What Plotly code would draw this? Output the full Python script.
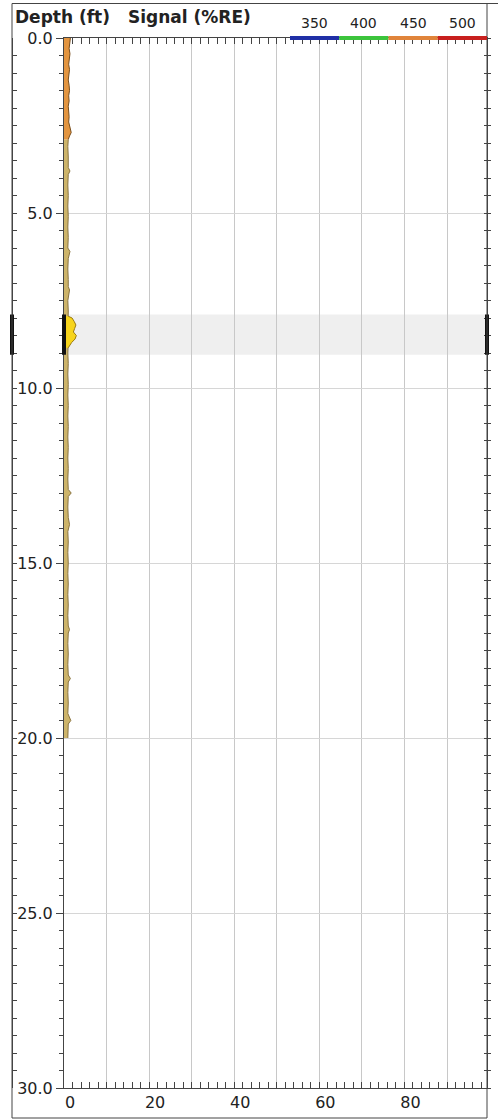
import plotly.graph_objects as go

# ---------------- data ----------------
orange_depth = [0.0, 0.15, 0.3, 0.45, 0.6, 0.75, 0.9, 1.05, 1.2, 1.35, 1.5, 1.65, 1.8, 1.95,
                2.1, 2.25, 2.4, 2.55, 2.7, 2.8, 2.9]
orange_signal = [1.5, 1.3, 1.2, 1.4, 1.3, 1.1, 1.3, 1.2, 1.0, 1.2, 1.3, 1.1, 1.2, 1.0,
                 1.1, 1.2, 1.1, 1.4, 1.7, 1.3, 1.0]

tan_depth = [2.9, 3.1, 3.4, 3.7, 3.8, 3.9, 4.2, 4.5, 4.8, 5.1, 5.4, 5.7, 6.0, 6.1, 6.3, 6.6,
             6.9, 7.1, 7.2, 7.5, 7.8, 8.1, 8.4, 8.7, 9.0, 9.3, 9.6, 9.9, 10.2, 10.5, 10.8,
             11.1, 11.4, 11.7, 12.0, 12.3, 12.6, 12.9, 13.0, 13.1, 13.4, 13.7, 13.9, 14.1,
             14.4, 14.7, 15.0, 15.3, 15.6, 15.9, 16.2, 16.5, 16.8, 16.9, 17.0, 17.3, 17.6,
             17.9, 18.2, 18.3, 18.4, 18.7, 19.0, 19.3, 19.5, 19.6, 19.8, 20.0]
tan_signal = [1.0, 0.9, 1.0, 1.0, 1.4, 1.0, 0.9, 1.0, 0.9, 1.0, 0.9, 1.0, 0.9, 1.4, 1.0, 0.9,
              1.0, 1.0, 1.3, 0.9, 1.0, 0.9, 0.9, 1.0, 0.9, 1.0, 0.9, 1.0, 0.9, 1.0, 0.9,
              1.0, 0.9, 1.0, 0.9, 1.0, 0.9, 1.0, 1.7, 1.0, 0.9, 1.0, 1.3, 0.9,
              1.0, 0.9, 1.0, 0.9, 1.0, 0.9, 1.0, 0.9, 1.0, 1.3, 1.0, 0.9, 1.0,
              0.9, 1.0, 1.5, 1.0, 0.9, 1.0, 0.9, 1.6, 1.0, 0.9, 0.9]

bulge_depth = [7.95, 8.0, 8.1, 8.2, 8.3, 8.4, 8.5, 8.6, 8.7, 8.8, 8.85]
bulge_signal = [1.0, 1.9, 2.4, 2.8, 2.5, 2.2, 2.9, 2.6, 1.8, 1.2, 1.0]

zone_top, zone_bottom = 7.9, 9.05

depth_ticks = [0, 5, 10, 15, 20, 25, 30]
depth_tick_text = ["0.0", "5.0", "10.0", "15.0", "20.0", "25.0", "30.0"]
signal_ticks = [0, 10, 20, 30, 40, 50, 60, 70, 80, 90]
signal_tick_text = ["0", "", "20", "", "40", "", "60", "", "80", ""]

legend_labels = ["350", "400", "450", "500"]
legend_colors = ["#1f2fa6", "#3cc43c", "#e0843a", "#c8201e"]

# ---------------- figure ----------------
W, H = 498, 1120
ML, MR, MT, MB = 12, 11, 38, 32
plot_w = W - ML - MR
plot_h = H - MT - MB
x_dom0 = 52 / plot_w


def px_x(px):
    return (px - ML) / plot_w


def px_y(py):
    return (H - MB - py) / plot_h


FONT = "DejaVu Sans"
AX = "#444444"
TXT = "#222222"

fig = go.Figure()

fig.add_trace(go.Scatter(x=tan_signal, y=tan_depth, mode="lines", fill="tozerox",
                         fillcolor="#cdb46a", line=dict(color="#8a7440", width=1),
                         showlegend=False, hoverinfo="skip"))
fig.add_trace(go.Scatter(x=orange_signal, y=orange_depth, mode="lines", fill="tozerox",
                         fillcolor="#e39540", line=dict(color="#7a4e1c", width=1),
                         showlegend=False, hoverinfo="skip"))
fig.add_trace(go.Scatter(x=bulge_signal, y=bulge_depth, mode="lines", fill="tozerox",
                         fillcolor="#f7d41c", line=dict(color="#9a7a10", width=1),
                         showlegend=False, hoverinfo="skip"))
for ya in ["y2", "y3", "y4"]:
    fig.add_trace(go.Scatter(x=[None], y=[None], yaxis=ya, showlegend=False,
                             hoverinfo="skip"))

yrange = [30, 0]
common_minor_y = dict(dtick=0.5, tick0=0, showgrid=False, tickcolor=AX)

fig.update_layout(
    width=W, height=H,
    margin=dict(l=ML, r=MR, t=MT, b=MB, autoexpand=False),
    paper_bgcolor="white", plot_bgcolor="white",
    font=dict(family=FONT, color=TXT),
    xaxis=dict(domain=[x_dom0, 1], range=[0, 99.4], anchor="y", automargin=False,
               tickvals=signal_ticks, ticktext=signal_tick_text,
               ticks="inside", ticklen=6, tickcolor=AX,
               showline=True, linecolor=AX, mirror="allticks",
               showgrid=True, gridcolor="#c8c8c8", gridwidth=1, zeroline=False,
               minor=dict(dtick=2, ticks="inside", ticklen=3, tickcolor=AX, showgrid=False),
               tickfont=dict(family=FONT, size=16, color=TXT), ticklabelshift=6),
    yaxis=dict(anchor="x", range=yrange, tickvals=depth_ticks, ticktext=depth_tick_text,
               automargin=False,
               ticks="outside", ticklen=7, tickcolor=AX,
               showline=True, linecolor=AX, showgrid=True, gridcolor="#d6d6d6",
               zeroline=False,
               minor=dict(ticks="outside", ticklen=4, **common_minor_y),
               tickfont=dict(family=FONT, size=16, color=TXT)),
    yaxis2=dict(overlaying="y", anchor="free", position=0, side="left", range=yrange,
                automargin=False,
                tickvals=depth_ticks, ticks="inside", ticklen=4, tickcolor=AX,
                showticklabels=False, showline=True, linecolor=AX, showgrid=False,
                zeroline=False, minor=dict(ticks="inside", ticklen=4, **common_minor_y)),
    yaxis3=dict(overlaying="y", anchor="x", side="right", range=yrange, automargin=False,
                tickvals=depth_ticks, ticks="outside", ticklen=3, tickcolor=AX,
                showticklabels=False, showline=True, linecolor=AX, showgrid=False,
                zeroline=False, minor=dict(ticks="outside", ticklen=3, **common_minor_y)),
    yaxis4=dict(overlaying="y", anchor="x", side="right", range=yrange, automargin=False,
                tickvals=depth_ticks, ticks="inside", ticklen=3, tickcolor=AX,
                showticklabels=False, showline=False, showgrid=False,
                zeroline=False, minor=dict(ticks="inside", ticklen=3, **common_minor_y)),
)

shapes = []
# highlighted zone
shapes.append(dict(type="rect", xref="x domain", yref="y", x0=0, x1=1,
                   y0=zone_top, y1=zone_bottom, fillcolor="#efefef",
                   line=dict(width=0), layer="below"))
# zone markers
for xr, xv in [("paper", 0), ("x domain", 0), ("paper", 1)]:
    shapes.append(dict(type="line", xref=xr, yref="y", x0=xv, x1=xv,
                       y0=zone_top, y1=zone_bottom, line=dict(color="#111111", width=4),
                       layer="above"))
# outer frame
shapes.append(dict(type="rect", xref="paper", yref="paper", x0=0, x1=1,
                   y0=px_y(1118), y1=px_y(3.5), line=dict(color=AX, width=1),
                   fillcolor="rgba(0,0,0,0)", layer="above"))
shapes.append(dict(type="line", xref="paper", yref="paper", x0=1, x1=px_x(W + 5),
                   y0=px_y(3.5), y1=px_y(3.5), line=dict(color=AX, width=1)))
# color legend bar
seg0 = px_x(290)
seg_w = (1 - seg0) / len(legend_colors)
annotations = []
for i, (lab, col) in enumerate(zip(legend_labels, legend_colors)):
    x0 = seg0 + i * seg_w
    shapes.append(dict(type="line", xref="paper", yref="paper", x0=x0, x1=x0 + seg_w,
                       y0=1, y1=1, line=dict(color=col, width=4), layer="above"))
    annotations.append(dict(text=lab, xref="paper", yref="paper", x=x0 + seg_w / 2,
                            y=px_y(23), xanchor="center", yanchor="middle",
                            showarrow=False, font=dict(family=FONT, size=14, color=TXT)))

annotations.append(dict(text="<b>Depth (ft)</b>", xref="paper", yref="paper",
                        x=px_x(13), y=px_y(17), xanchor="left", yanchor="middle",
                        showarrow=False, font=dict(family=FONT, size=17, color=TXT)))
annotations.append(dict(text="<b>Signal (%RE)</b>", xref="paper", yref="paper",
                        x=px_x(126), y=px_y(17), xanchor="left", yanchor="middle",
                        showarrow=False, font=dict(family=FONT, size=17, color=TXT)))

fig.update_layout(shapes=shapes, annotations=annotations)

fig.write_html(
    "out.html",
    config={"displayModeBar": False},
    post_script="document.body.style.margin='0';document.body.style.overflow='hidden';",
)
